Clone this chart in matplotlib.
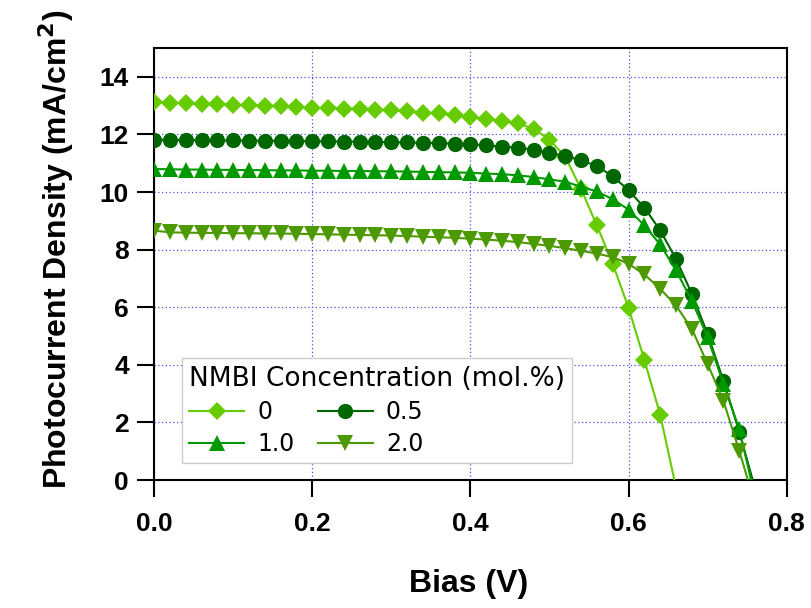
import matplotlib
matplotlib.use("Agg")
import matplotlib.pyplot as plt
from matplotlib.lines import Line2D

bias = [0.00, 0.02, 0.04, 0.06, 0.08, 0.10, 0.12, 0.14, 0.16, 0.18,
        0.20, 0.22, 0.24, 0.26, 0.28, 0.30, 0.32, 0.34, 0.36, 0.38,
        0.40, 0.42, 0.44, 0.46, 0.48, 0.50, 0.52, 0.54, 0.56, 0.58,
        0.60, 0.62, 0.64, 0.66, 0.68, 0.70, 0.72, 0.74]

j_00 = [13.11, 13.10, 13.08, 13.06, 13.04, 13.02, 13.01, 13.00, 12.98, 12.96,
        12.93, 12.91, 12.90, 12.88, 12.86, 12.84, 12.81, 12.76, 12.73, 12.67,
        12.59, 12.54, 12.46, 12.38, 12.20, 11.82, 11.22, 10.10, 8.84, 7.51,
        5.98, 4.17, 2.27]
j_05 = [11.82, 11.81, 11.80, 11.80, 11.79, 11.79, 11.78, 11.78, 11.77, 11.77,
        11.76, 11.76, 11.75, 11.75, 11.74, 11.73, 11.72, 11.71, 11.70, 11.68,
        11.66, 11.62, 11.58, 11.54, 11.47, 11.36, 11.25, 11.10, 10.90, 10.55,
        10.06, 9.46, 8.67, 7.68, 6.47, 5.07, 3.45, 1.68]
j_10 = [10.80, 10.79, 10.78, 10.78, 10.77, 10.77, 10.76, 10.76, 10.75, 10.75,
        10.74, 10.74, 10.73, 10.73, 10.72, 10.72, 10.71, 10.70, 10.69, 10.68,
        10.67, 10.64, 10.62, 10.58, 10.52, 10.44, 10.36, 10.18, 10.02, 9.75,
        9.39, 8.84, 8.18, 7.28, 6.23, 4.96, 3.34, 1.77]
j_20 = [8.66, 8.60, 8.59, 8.58, 8.58, 8.57, 8.57, 8.56, 8.56, 8.55,
        8.54, 8.53, 8.52, 8.51, 8.50, 8.49, 8.47, 8.45, 8.43, 8.41,
        8.38, 8.35, 8.31, 8.26, 8.20, 8.13, 8.05, 7.96, 7.86, 7.74,
        7.51, 7.14, 6.64, 6.06, 5.25, 4.03, 2.75, 1.02]

voc = {"0": 0.658, "0.5": 0.757, "1.0": 0.755, "2.0": 0.751}
labels = ["0", "0.5", "1.0", "2.0"]
series = {"0": j_00, "0.5": j_05, "1.0": j_10, "2.0": j_20}
colors = {"0": "#66CC00", "0.5": "#006600", "1.0": "#009900", "2.0": "#4D9900"}
markers = {"0": "D", "0.5": "o", "1.0": "^", "2.0": "v"}
msizes = {"0": 9, "0.5": 11, "1.0": 11, "2.0": 11}

plt.rcParams['font.family'] = ['Liberation Sans', 'DejaVu Sans']

fig = plt.figure(figsize=(8.11, 6.08), dpi=100)
ax = fig.add_axes([0.190, 0.2105, 0.780, 0.7105])

handles = {}
for lab in labels:
    y = series[lab]
    x = bias[:len(y)] + [voc[lab]]
    yy = y + [0.0]
    ax.plot(x, yy, color=colors[lab], lw=1.5, marker=markers[lab],
            ms=msizes[lab], markevery=slice(0, len(y)),
            markeredgewidth=0, zorder=3)
    handles[lab] = Line2D([], [], color=colors[lab], lw=1.5,
                          marker=markers[lab], ms=msizes[lab],
                          markeredgewidth=0)

ax.set_xlim(0, 0.8)
ax.set_ylim(0, 15)
ax.set_xticks([0.0, 0.2, 0.4, 0.6, 0.8])
ax.set_xticklabels(["0.0", "0.2", "0.4", "0.6", "0.8"])
ax.set_yticks([0, 2, 4, 6, 8, 10, 12, 14])
ax.grid(True, color="#5050E0", linestyle=(0, (1, 2)), lw=0.9)
ax.set_axisbelow(True)
for s in ax.spines.values():
    s.set_linewidth(1.5)
ax.tick_params(direction="out", length=12, width=1.5, labelsize=19)
ax.tick_params(axis="x", pad=11)
ax.tick_params(axis="y", pad=6)
for t in ax.get_xticklabels() + ax.get_yticklabels():
    t.set_fontweight("bold")

ax.set_xlabel("Bias (V)", fontsize=23, fontweight="bold")
ax.set_ylabel("Photocurrent Density (mA/cm$^\\mathbf{2}$)", fontsize=23,
              fontweight="bold")
ax.xaxis.set_label_coords(0.497, -0.205)
ax.yaxis.set_label_coords(-0.123, 0.535)

order = ["0", "1.0", "0.5", "2.0"]
leg = ax.legend([handles[k] for k in order], order, ncol=2,
                title="NMBI Concentration (mol.%)",
                prop={"family": "DejaVu Sans", "size": 17},
                title_fontproperties={"family": "DejaVu Sans", "size": 19},
                loc="lower left", bbox_to_anchor=(0.044, 0.039),
                borderaxespad=0, frameon=True, fancybox=False,
                edgecolor="#CCCCCC", framealpha=1, handlelength=2.33,
                columnspacing=1.0, handletextpad=0.55, borderpad=0.3,
                labelspacing=0.35)
leg._legend_box.align = "left"
leg.get_frame().set_linewidth(1.0)

fig.savefig("out.png", dpi=100)
